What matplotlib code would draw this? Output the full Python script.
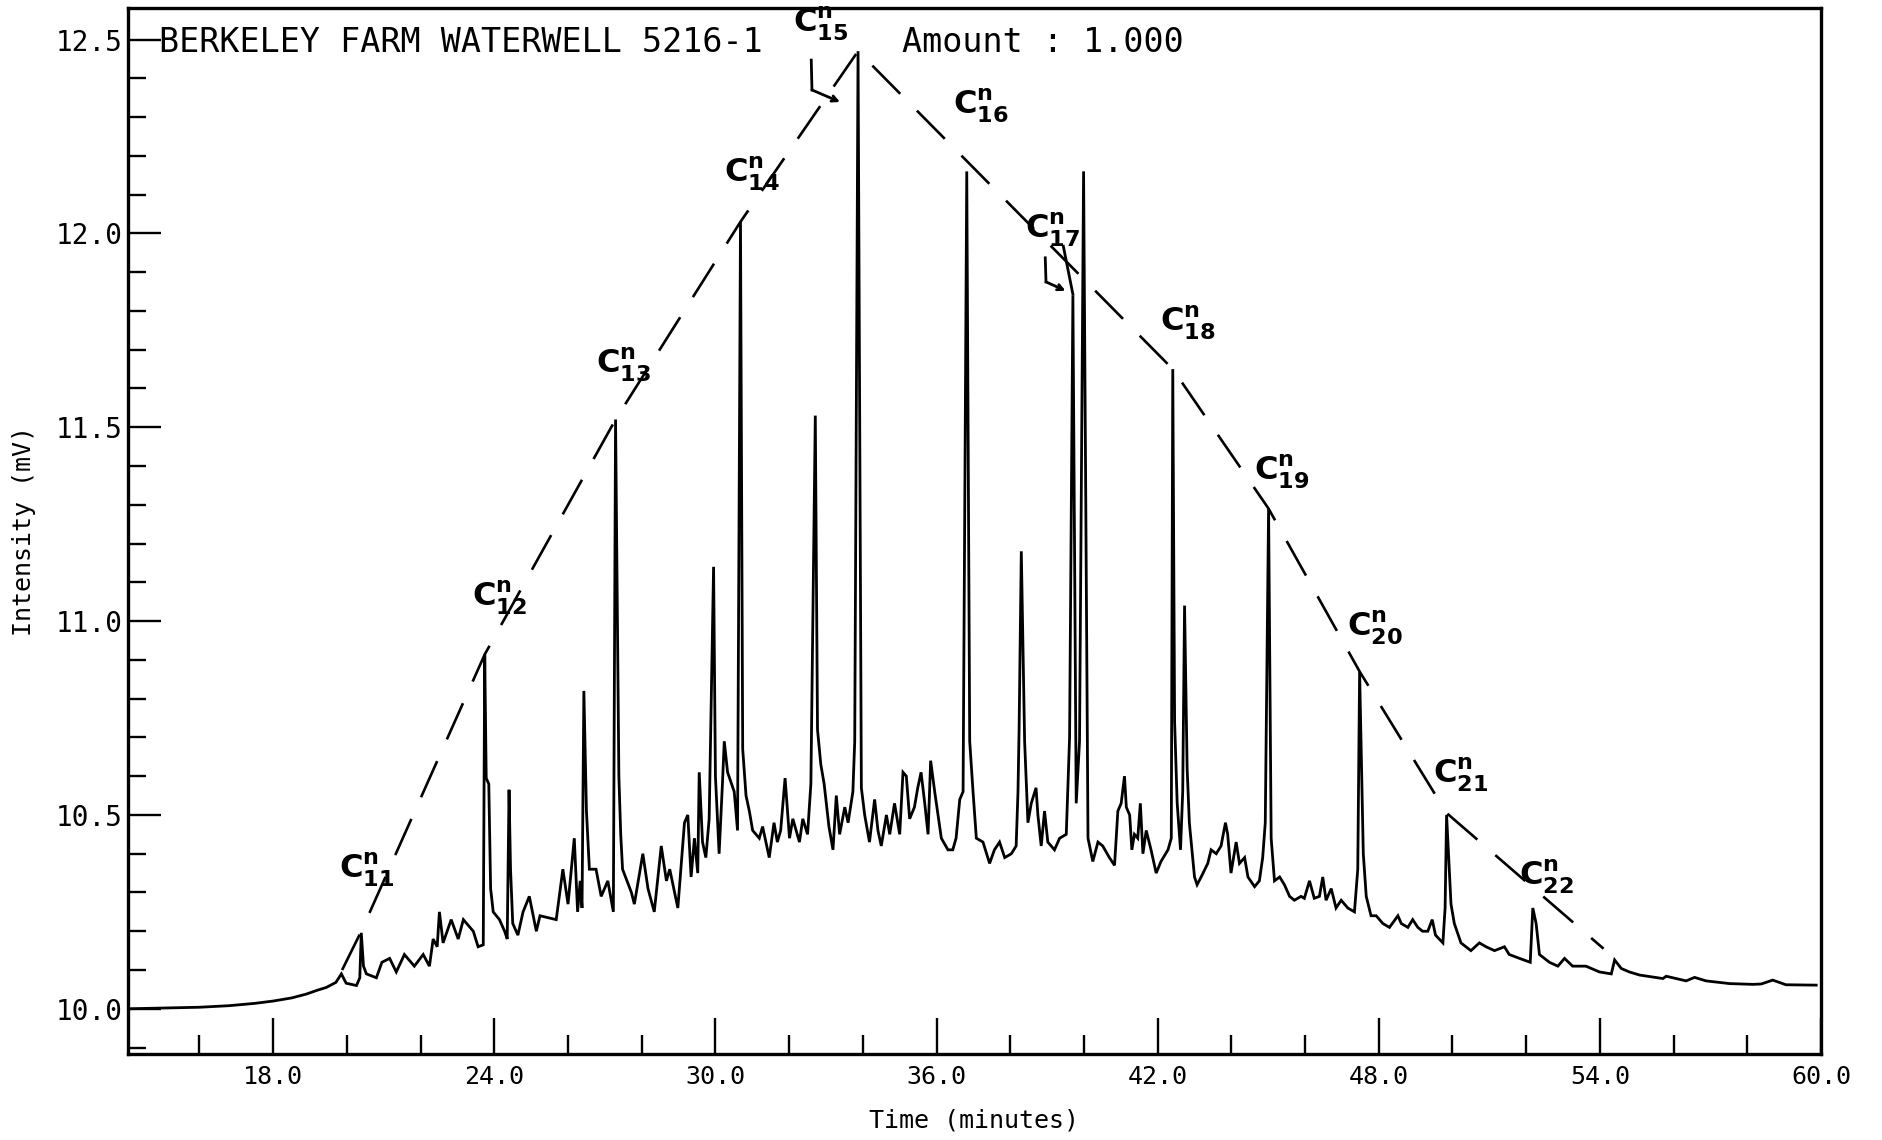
import matplotlib
matplotlib.use("Agg")
import matplotlib.pyplot as plt
from matplotlib.ticker import MultipleLocator, FormatStrFormatter

# chromatogram trace (time in minutes, intensity in mV)
trace_time = [
    14.06, 15.00, 16.00, 16.80, 17.50, 18.00, 18.50, 18.90, 19.20, 19.44,
    19.70, 19.85, 19.98, 20.26, 20.35, 20.39, 20.45, 20.53, 20.80, 20.95,
    21.16, 21.34, 21.56, 21.83, 22.07, 22.24, 22.34, 22.45, 22.51, 22.61,
    22.83, 23.02, 23.16, 23.43, 23.56, 23.70, 23.74, 23.78, 23.85, 23.90,
    23.97, 24.14, 24.28, 24.35, 24.40, 24.44, 24.50, 24.64, 24.78, 24.95,
    25.14, 25.24, 25.68, 25.86, 26.00, 26.17, 26.26, 26.33, 26.38, 26.43,
    26.50, 26.58, 26.76, 26.90, 27.08, 27.23, 27.29, 27.33, 27.38, 27.43,
    27.48, 27.72, 27.80, 28.03, 28.17, 28.34, 28.53, 28.67, 28.76, 28.98,
    29.16, 29.25, 29.34, 29.43, 29.52, 29.56, 29.65, 29.74, 29.83, 29.95,
    30.00, 30.10, 30.19, 30.24, 30.33, 30.51, 30.60, 30.68, 30.74, 30.83,
    30.92, 31.01, 31.19, 31.28, 31.46, 31.59, 31.68, 31.77, 31.89, 32.01,
    32.10, 32.28, 32.37, 32.50, 32.59, 32.71, 32.77, 32.86, 32.95, 33.08,
    33.19, 33.28, 33.37, 33.51, 33.60, 33.73, 33.78, 33.87, 33.96, 34.05,
    34.18, 34.32, 34.41, 34.50, 34.64, 34.73, 34.86, 35.00, 35.09, 35.18,
    35.27, 35.40, 35.49, 35.58, 35.68, 35.77, 35.84, 35.95, 36.04, 36.13,
    36.31, 36.44, 36.53, 36.63, 36.72, 36.82, 36.90, 36.99, 37.08, 37.26,
    37.44, 37.57, 37.71, 37.85, 38.03, 38.16, 38.21, 38.24, 38.30, 38.39,
    38.48, 38.57, 38.70, 38.75, 38.84, 38.93, 39.02, 39.20, 39.34, 39.52,
    39.61, 39.70, 39.79, 39.88, 39.99, 40.11, 40.24, 40.38, 40.51, 40.69,
    40.83, 40.92, 41.01, 41.10, 41.15, 41.24, 41.30, 41.37, 41.46, 41.53,
    41.60, 41.69, 41.82, 41.96, 42.09, 42.28, 42.37, 42.41, 42.46, 42.53,
    42.62, 42.68, 42.73, 42.80, 42.86, 43.00, 43.07, 43.18, 43.36, 43.45,
    43.59, 43.72, 43.84, 43.90, 43.99, 44.13, 44.22, 44.36, 44.45, 44.63,
    44.76, 44.85, 44.92, 45.01, 45.08, 45.17, 45.31, 45.44, 45.58, 45.71,
    45.89, 45.98, 46.12, 46.25, 46.39, 46.48, 46.57, 46.71, 46.84, 46.98,
    47.16, 47.34, 47.43, 47.48, 47.58, 47.66, 47.79, 47.93, 48.11, 48.29,
    48.52, 48.61, 48.79, 48.92, 49.06, 49.19, 49.33, 49.45, 49.54, 49.74,
    49.80, 49.84, 49.96, 50.05, 50.23, 50.50, 50.73, 50.91, 51.14, 51.41,
    51.54, 51.82, 52.11, 52.18, 52.27, 52.36, 52.63, 52.86, 53.04, 53.26,
    53.62, 53.99, 54.31, 54.40, 54.58, 54.80, 55.08, 55.71, 55.80, 56.34,
    56.57, 56.88, 57.52, 58.15, 58.38, 58.69, 59.05, 59.87,
]
trace_mv = [
    10.000, 10.002, 10.004, 10.008, 10.014, 10.020, 10.028, 10.038, 10.048, 10.055,
    10.068, 10.090, 10.066, 10.060, 10.080, 10.196, 10.110, 10.090, 10.080, 10.120,
    10.130, 10.095, 10.140, 10.110, 10.140, 10.110, 10.180, 10.160, 10.250, 10.170,
    10.230, 10.180, 10.230, 10.200, 10.160, 10.165, 10.914, 10.595, 10.580, 10.310,
    10.250, 10.230, 10.200, 10.180, 10.565, 10.360, 10.220, 10.190, 10.250, 10.290,
    10.200, 10.240, 10.230, 10.360, 10.270, 10.440, 10.250, 10.330, 10.260, 10.820,
    10.510, 10.360, 10.360, 10.290, 10.330, 10.250, 11.520, 11.120, 10.600, 10.450,
    10.360, 10.300, 10.270, 10.400, 10.310, 10.250, 10.420, 10.330, 10.360, 10.260,
    10.480, 10.500, 10.340, 10.440, 10.350, 10.610, 10.430, 10.390, 10.490, 11.140,
    10.600, 10.400, 10.580, 10.690, 10.610, 10.560, 10.460, 12.030, 10.670, 10.550,
    10.510, 10.460, 10.440, 10.470, 10.390, 10.480, 10.430, 10.460, 10.595, 10.440,
    10.490, 10.430, 10.490, 10.450, 10.580, 11.530, 10.720, 10.630, 10.580, 10.470,
    10.410, 10.550, 10.450, 10.520, 10.480, 10.560, 10.690, 12.470, 10.570, 10.500,
    10.430, 10.540, 10.460, 10.420, 10.500, 10.450, 10.530, 10.450, 10.610, 10.600,
    10.490, 10.520, 10.570, 10.610, 10.530, 10.450, 10.640, 10.560, 10.500, 10.440,
    10.410, 10.410, 10.440, 10.540, 10.560, 12.160, 10.690, 10.560, 10.440, 10.430,
    10.375, 10.410, 10.430, 10.390, 10.400, 10.420, 10.560, 10.720, 11.180, 10.690,
    10.480, 10.530, 10.570, 10.500, 10.420, 10.510, 10.430, 10.410, 10.440, 10.450,
    10.700, 11.840, 10.530, 10.690, 12.160, 10.440, 10.380, 10.430, 10.420, 10.390,
    10.370, 10.510, 10.530, 10.600, 10.520, 10.500, 10.410, 10.450, 10.440, 10.530,
    10.400, 10.460, 10.410, 10.350, 10.380, 10.410, 10.440, 11.650, 10.740, 10.530,
    10.410, 10.560, 11.040, 10.620, 10.480, 10.340, 10.320, 10.340, 10.375, 10.410,
    10.400, 10.420, 10.480, 10.450, 10.350, 10.430, 10.375, 10.390, 10.340, 10.315,
    10.330, 10.390, 10.480, 11.290, 10.440, 10.330, 10.340, 10.320, 10.290, 10.280,
    10.290, 10.285, 10.330, 10.285, 10.290, 10.340, 10.280, 10.310, 10.260, 10.280,
    10.260, 10.250, 10.360, 10.870, 10.400, 10.290, 10.240, 10.240, 10.220, 10.210,
    10.240, 10.220, 10.210, 10.230, 10.210, 10.200, 10.200, 10.230, 10.190, 10.170,
    10.260, 10.500, 10.270, 10.220, 10.170, 10.150, 10.170, 10.160, 10.150, 10.160,
    10.140, 10.130, 10.120, 10.260, 10.220, 10.140, 10.120, 10.110, 10.130, 10.110,
    10.110, 10.095, 10.090, 10.126, 10.104, 10.095, 10.087, 10.078, 10.084, 10.072,
    10.081, 10.072, 10.065, 10.063, 10.064, 10.074, 10.062, 10.061,
]

# hand-drawn envelope through the n-alkane apexes
envelope_time = [19.87, 20.39, 23.74, 27.29, 30.68, 33.87, 42.41, 45.01, 47.48, 49.84, 54.10]
envelope_mv = [10.10, 10.20, 10.914, 11.52, 12.03, 12.47, 11.65, 11.29, 10.87, 10.505, 10.155]

# n-alkane labels
carbon_numbers = ["11", "12", "13", "14", "15", "16", "17", "18", "19", "20", "21", "22"]
label_time = [20.53, 24.13, 27.52, 30.98, 32.86, 37.21, 39.15, 42.83, 45.37, 47.90, 50.23, 52.54]
label_mv = [10.358, 11.06, 11.66, 12.153, 12.54, 12.33, 12.01, 11.77, 11.385, 10.982, 10.603, 10.34]

# bracket arrows for C15 and C17, and the stroke joining C17 to its peak
c15_arrow_time = [32.60, 32.62, 33.38]
c15_arrow_mv = [12.447, 12.370, 12.339]
c17_arrow_time = [38.95, 38.97, 39.50]
c17_arrow_mv = [11.937, 11.875, 11.852]
c17_stroke_time = [39.44, 39.70]
c17_stroke_mv = [11.967, 11.843]

mono = "DejaVu Sans Mono"

fig = plt.figure(figsize=(18.83, 11.40), dpi=100)
ax = fig.add_axes([128 / 1883, 1 - 1054 / 1140, 1693 / 1883, 1046 / 1140])

ax.plot(trace_time, trace_mv, color="black", lw=2.0, solid_joinstyle="miter")
ax.plot(envelope_time, envelope_mv, color="black", lw=1.9, dashes=(15, 9))

for num, t, v in zip(carbon_numbers, label_time, label_mv):
    ax.text(t, v, r"$\mathbf{C}^{\mathbf{n}}_{\mathbf{%s}}$" % num, fontsize=23,
            ha="center", va="center")

ax.plot(c15_arrow_time[:2], c15_arrow_mv[:2], color="black", lw=2)
ax.annotate("", xy=(c15_arrow_time[2], c15_arrow_mv[2]),
            xytext=(c15_arrow_time[1], c15_arrow_mv[1]),
            arrowprops=dict(arrowstyle="->", lw=2, color="black", shrinkA=0, shrinkB=0))
ax.plot(c17_arrow_time[:2], c17_arrow_mv[:2], color="black", lw=2)
ax.annotate("", xy=(c17_arrow_time[2], c17_arrow_mv[2]),
            xytext=(c17_arrow_time[1], c17_arrow_mv[1]),
            arrowprops=dict(arrowstyle="->", lw=2, color="black", shrinkA=0, shrinkB=0))
ax.plot(c17_stroke_time, c17_stroke_mv, color="black", lw=2)

# plotter header
ax.text(14.9, 12.468, "BERKELEY FARM WATERWELL 5216-1", family=mono, fontsize=24,
        ha="left", va="baseline")
ax.text(35.05, 12.468, "Amount : 1.000", family=mono, fontsize=24,
        ha="left", va="baseline")

ax.set_xlim(14.06, 60.0)
ax.set_ylim(9.8834, 12.5814)

ax.xaxis.set_major_locator(MultipleLocator(6))
ax.xaxis.set_minor_locator(MultipleLocator(2))
ax.yaxis.set_major_locator(MultipleLocator(0.5))
ax.yaxis.set_minor_locator(MultipleLocator(0.1))
ax.xaxis.set_major_formatter(FormatStrFormatter("%.1f"))
ax.yaxis.set_major_formatter(FormatStrFormatter("%.1f"))

ax.tick_params(axis="both", which="both", direction="in", width=1.7, color="black")
ax.tick_params(axis="x", which="major", length=26, pad=8)
ax.tick_params(axis="x", which="minor", length=14)
ax.tick_params(axis="y", which="major", length=24, pad=4)
ax.tick_params(axis="y", which="minor", length=13)
ax.tick_params(right=False, top=False)

for lab in ax.get_xticklabels():
    lab.set_fontfamily(mono)
    lab.set_fontsize(18)
for lab in ax.get_yticklabels():
    lab.set_fontfamily(mono)
    lab.set_fontsize(20)

for sp in ax.spines.values():
    sp.set_linewidth(2.4)

ax.set_xlabel("Time (minutes)", family=mono, fontsize=18, labelpad=14)
ax.set_ylabel("Intensity (mV)", family=mono, fontsize=18, labelpad=14)

fig.savefig("out.png", dpi=100, facecolor="white")
